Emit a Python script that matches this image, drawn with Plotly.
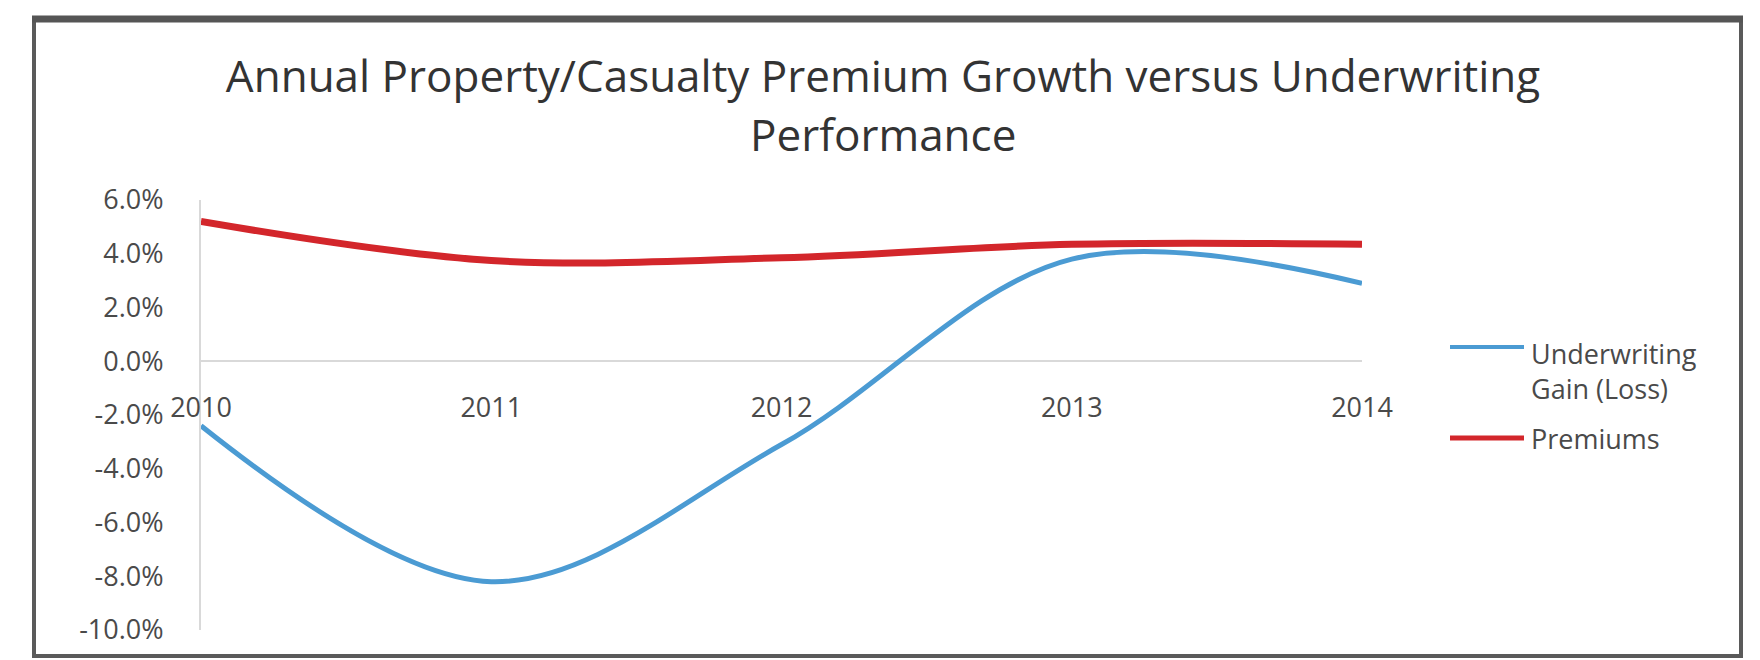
import plotly.graph_objects as go

# ---- data ----
years = [2010, 2011, 2012, 2013, 2014]
year_labels = ["2010", "2011", "2012", "2013", "2014"]
underwriting = [-2.4, -8.2, -3.1, 3.8, 2.9]   # % underwriting gain (loss)
premiums = [5.2, 3.75, 3.85, 4.35, 4.35]      # % premium growth
y_ticks = [6, 4, 2, 0, -2, -4, -6, -8, -10]
y_tick_labels = ["6.0%", "4.0%", "2.0%", "0.0%", "-2.0%", "-4.0%", "-6.0%", "-8.0%", "-10.0%"]
series_names = ["Underwriting Gain (Loss)", "Premiums"]
title_lines = ["Annual Property/Casualty Premium Growth versus Underwriting", "Performance"]

W, H = 1760, 660
PL, PR, PT, PB = 201, 1362, 200, 630  # plot area in pixels

def px(x):
    return (x - PL) / (PR - PL)

def py(y):
    return (PB - y) / (PB - PT)

BLUE = "#4b9bd3"
RED = "#d3262b"
FONT = "Open Sans"
TXT = "#4a4a4a"

fig = go.Figure()
fig.add_trace(go.Scatter(x=years, y=underwriting, mode="lines", name=series_names[0],
                         line=dict(color=BLUE, width=5, shape="spline", smoothing=1.0),
                         showlegend=False))
fig.add_trace(go.Scatter(x=years, y=premiums, mode="lines", name=series_names[1],
                         line=dict(color=RED, width=7, shape="spline", smoothing=1.0),
                         showlegend=False))

shapes = []
annotations = []
# chart border
shapes.append(dict(type="rect", xref="paper", yref="paper",
                   x0=px(34), x1=px(1741), y0=py(656), y1=py(20),
                   line=dict(color="#5a5a5a", width=4), layer="below"))
shapes.append(dict(type="line", xref="paper", yref="paper",
                   x0=px(32), x1=px(1743), y0=py(19), y1=py(19),
                   line=dict(color="#555555", width=7)))

# title second line (tighter line spacing than plotly's <br>)
annotations.append(dict(xref="paper", yref="paper", x=px(883), y=py(134),
                        xanchor="center", yanchor="middle", showarrow=False,
                        text=title_lines[1],
                        font=dict(family=FONT, size=44, color="#333333")))

# custom legend
first, second = series_names[0].split(" ", 1)
leg = [(BLUE, 347, 4), (RED, 438, 5)]
for col, yy, lw in leg:
    shapes.append(dict(type="line", xref="paper", yref="paper",
                       x0=px(1450), x1=px(1524), y0=py(yy), y1=py(yy),
                       line=dict(color=col, width=lw)))
annotations.append(dict(xref="paper", yref="paper", x=px(1530), y=py(334),
                        xanchor="left", yanchor="top", align="left",
                        text=first + "<br>" + second, showarrow=False, borderpad=0,
                        font=dict(family=FONT, size=27, color=TXT)))
annotations.append(dict(xref="paper", yref="paper", x=px(1530), y=py(438),
                        xanchor="left", yanchor="middle", align="left",
                        text=series_names[1], showarrow=False, borderpad=0,
                        font=dict(family=FONT, size=27, color=TXT)))

fig.update_layout(
    width=W, height=H,
    margin=dict(l=PL, r=W - PR, t=PT, b=H - PB),
    paper_bgcolor="white", plot_bgcolor="white",
    title=dict(text=title_lines[0],
               x=883 / W, xanchor="center", xref="container",
               y=1 - 77 / H, yanchor="middle", yref="container",
               font=dict(family=FONT, size=44, color="#333333")),
    xaxis=dict(range=[2010, 2014], tickvals=years, ticktext=year_labels,
               showgrid=False, zeroline=False, showline=False,
               anchor="free", position=(0 - (-10)) / 16,
               ticks="", ticklabelstandoff=28,
               tickfont=dict(family=FONT, size=27, color=TXT)),
    yaxis=dict(range=[-10, 6], tickvals=y_ticks, ticktext=y_tick_labels,
               showgrid=False, zeroline=True, zerolinecolor="#d9d9d9", zerolinewidth=2,
               showline=True, linecolor="#d9d9d9", linewidth=2,
               ticks="", ticklabelstandoff=30,
               tickfont=dict(family=FONT, size=27, color=TXT)),
    shapes=shapes, annotations=annotations,
    showlegend=False,
)

fig.write_html("out.html")
